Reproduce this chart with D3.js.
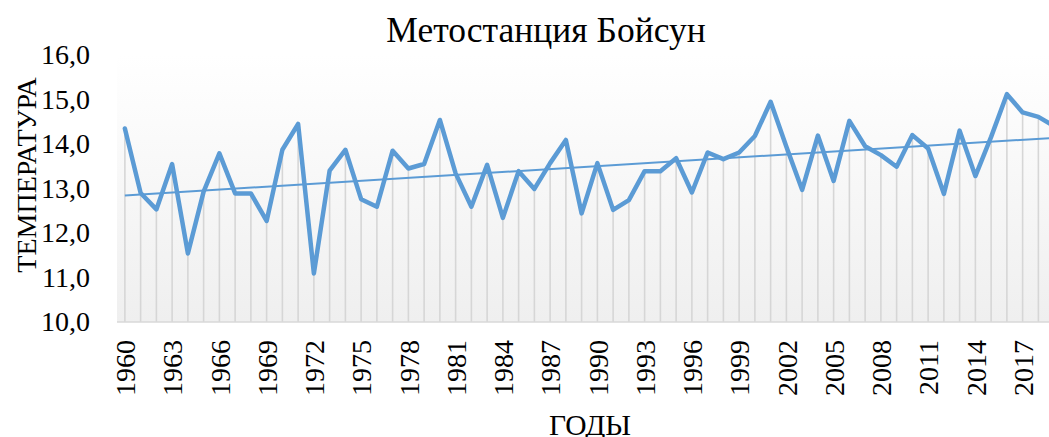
<!DOCTYPE html>
<html>
<head>
<meta charset="utf-8">
<script src="https://cdn.jsdelivr.net/npm/d3@7"></script>
<style>
  body { margin: 0; background: #fff; }
  text { font-family: "Liberation Serif", "Times New Roman", serif; fill: #000; }
</style>
</head>
<body>
<svg width="1049" height="437"></svg>
<script>
// years shown on the category axis
var years = d3.range(1960, 2020);

// mean annual temperature
var temps = [
  14.35, 12.90, 12.53, 13.55, 11.54, 12.93, 13.79, 12.89, 12.89, 12.27,
  13.87, 14.45, 11.09, 13.40, 13.87, 12.76, 12.59, 13.85, 13.45, 13.55,
  14.54, 13.34, 12.59, 13.53, 12.34, 13.39, 12.99, 13.57, 14.09, 12.44,
  13.57, 12.52, 12.74, 13.39, 13.39, 13.68, 12.91, 13.81, 13.66, 13.81,
  14.18, 14.95, 13.94, 12.97, 14.19, 13.17, 14.52, 13.95, 13.75, 13.49,
  14.20, 13.90, 12.88, 14.30, 13.28, 14.16, 15.12, 14.71, 14.61, 14.40
];

// labels every third year
var tickYears = years.filter(function(y) { return (y - 1960) % 3 === 0; });
var yTicks = [10, 11, 12, 13, 14, 15, 16];

var title = "Метостанция Бойсун";
var xTitle = "ГОДЫ";
var yTitle = "ТЕМПЕРАТУРА";

var svg = d3.select("svg");

// plot area bounds (the right edge runs past the window, as in the original)
var plotLeft = 117, bandW = 15.75;
var plotRight = plotLeft + years.length * bandW;
var plotTop = 55, plotBottom = 322;

var x = d3.scalePoint()
  .domain(years)
  .range([plotLeft, plotRight])
  .padding(0.5);

var y = d3.scaleLinear()
  .domain([10, 16])
  .range([plotBottom, plotTop]);

// plot area gradient
var defs = svg.append("defs");
var grad = defs.append("linearGradient")
  .attr("id", "bg")
  .attr("x1", 0).attr("y1", 0).attr("x2", 0).attr("y2", 1);
grad.append("stop").attr("offset", "0%").attr("stop-color", "#ffffff");
grad.append("stop").attr("offset", "100%").attr("stop-color", "#efefef");

svg.append("rect")
  .attr("x", plotLeft).attr("y", plotTop)
  .attr("width", plotRight - plotLeft).attr("height", plotBottom - plotTop)
  .attr("fill", "url(#bg)");

// drop lines
svg.append("g")
  .selectAll("line")
  .data(years)
  .join("line")
  .attr("x1", function(d) { return x(d); })
  .attr("x2", function(d) { return x(d); })
  .attr("y1", function(d, i) { return y(temps[i]); })
  .attr("y2", y(10))
  .attr("stroke", "#d6d6d6")
  .attr("stroke-width", 1.6);

// baseline
svg.append("line")
  .attr("x1", plotLeft).attr("x2", plotRight)
  .attr("y1", y(10)).attr("y2", y(10))
  .attr("stroke", "#d9d9d9")
  .attr("stroke-width", 1.5);

// y axis labels
var yAxis = d3.axisLeft(y)
  .tickValues(yTicks)
  .tickSize(0)
  .tickPadding(0)
  .tickFormat(function(d) { return d3.format(".1f")(d).replace(".", ","); });

svg.append("g")
  .attr("transform", "translate(90,0)")
  .call(yAxis)
  .call(function(g) { g.select(".domain").remove(); })
  .selectAll("text")
  .attr("font-size", 28)
  .attr("font-family", "Liberation Serif")
  .attr("fill", "#000");

// x axis labels
var xAxis = d3.axisBottom(x)
  .tickValues(tickYears)
  .tickSize(0)
  .tickPadding(0);

svg.append("g")
  .attr("transform", "translate(0," + plotBottom + ")")
  .call(xAxis)
  .call(function(g) { g.select(".domain").remove(); })
  .selectAll("text")
  .attr("font-size", 28)
  .attr("font-family", "Liberation Serif")
  .attr("fill", "#000")
  .attr("text-anchor", "end")
  .attr("dy", "0.35em")
  .attr("transform", "translate(0,18) rotate(-90)");

// temperature line
var line = d3.line()
  .x(function(d, i) { return x(years[i]); })
  .y(function(d) { return y(d); });

svg.append("path")
  .datum(temps)
  .attr("d", line)
  .attr("fill", "none")
  .attr("stroke", "#5b9bd5")
  .attr("stroke-width", 4.5)
  .attr("stroke-linejoin", "round")
  .attr("stroke-linecap", "round");

// linear trend
var n = temps.length;
var mx = d3.mean(years), my = d3.mean(temps);
var sxy = d3.sum(years, function(d, i) { return (d - mx) * (temps[i] - my); });
var sxx = d3.sum(years, function(d) { return (d - mx) * (d - mx); });
var slope = sxy / sxx, icpt = my - slope * mx;

svg.append("line")
  .attr("x1", x(years[0]))
  .attr("x2", x(years[n - 1]))
  .attr("y1", y(icpt + slope * years[0]))
  .attr("y2", y(icpt + slope * years[n - 1]))
  .attr("stroke", "#5b9bd5")
  .attr("stroke-width", 2);

// titles
svg.append("text")
  .attr("x", 546).attr("y", 42)
  .attr("text-anchor", "middle")
  .attr("font-size", 35.5)
  .text(title);

svg.append("text")
  .attr("x", 590).attr("y", 435)
  .attr("text-anchor", "middle")
  .attr("font-size", 29.5)
  .text(xTitle);

svg.append("text")
  .attr("transform", "translate(36,175) rotate(-90)")
  .attr("text-anchor", "middle")
  .attr("font-size", 28)
  .text(yTitle);
</script>
</body>
</html>
